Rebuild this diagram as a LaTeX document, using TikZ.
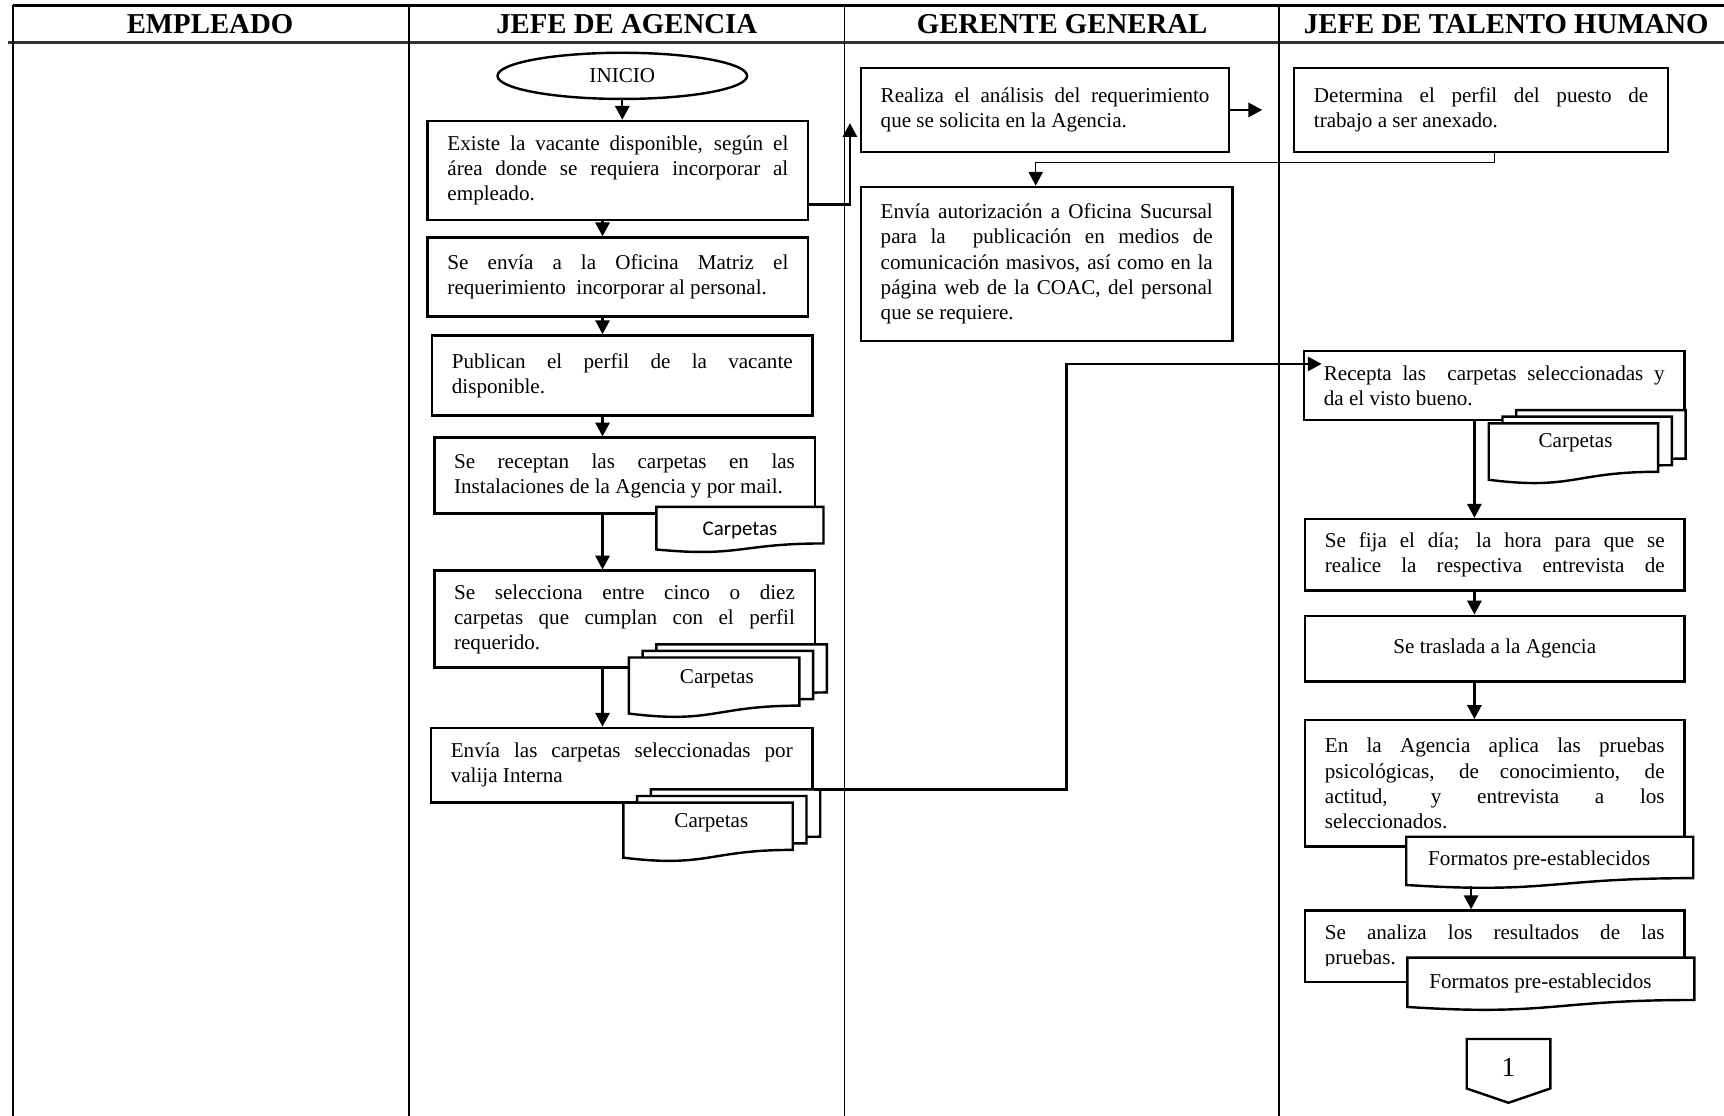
\documentclass[tikz,border=0pt]{standalone}
\usepackage{fontspec}
\setmainfont{Liberation Serif}
\newfontfamily\calibrifont{Carlito}
\usetikzlibrary{arrows.meta,shapes.geometric}

% justified box texts use hand-placed line ends, so accept loose lines
\tolerance=9999
\hbadness=10000
\hfuzz=20pt

\newcommand\bodysize{\fontsize{9.6}{11.4}\selectfont}

% process box: name, x, y, width, height (all in layout units), text
\newcommand\flowbox[6]{%
  \pgfmathsetmacro\fbx{#2+#4/2}\pgfmathsetmacro\fby{#3+#5/2}%
  \pgfmathsetmacro\fbtw{(#4-36)*0.5}\pgfmathsetmacro\fbh{#5*0.5}%
  \node[box, text width=\fbtw pt, minimum height=\fbh pt] (#1) at (\fbx,\fby) {#6};}

% document symbol with wavy bottom edge: x, y, width, height
\newcommand\docshape[4]{%
  \pgfmathsetmacro\dxa{#1+#3}\pgfmathsetmacro\dyr{#2+0.802*#4}%
  \pgfmathsetmacro\dxm{#1+0.5*#3}\pgfmathsetmacro\dyd{#2+1.11*#4}%
  \pgfmathsetmacro\dyl{#2+0.934*#4}%
  \draw[docline] (#1,#2) -- (\dxa,#2) -- (\dxa,\dyr)
    .. controls (\dxm,\dyr) and (\dxm,\dyd) .. (#1,\dyl) -- cycle;}

\begin{document}
\begin{tikzpicture}[x=0.5pt,y=-0.5pt,
  box/.style={draw, fill=white, line width=1.1pt, inner xsep=9pt, inner ysep=0pt,
    align=justify, font=\bodysize},
  docline/.style={draw, fill=white, line width=1.1pt},
  doctext/.style={font=\bodysize, inner sep=0pt},
  startend/.style={ellipse, draw, fill=white, line width=1.1pt, minimum width=113.5pt,
    minimum height=21pt, inner sep=0pt, font=\bodysize},
  lane/.style={line width=0.8pt},
  frame/.style={line width=1pt},
  headrule/.style={line width=1.2pt, black!80},
  header/.style={font=\fontsize{13.1}{15}\selectfont\bfseries, inner sep=0pt},
  arr/.style={line width=1pt, -{Triangle[length=6.3pt,width=6.5pt]}},
  arrthin/.style={line width=0.6pt, -{Triangle[length=6.3pt,width=6.5pt]}}]
\useasboundingbox (0,0) rectangle (1568,1015);

% lanes and header row
\draw[frame] (11.5,5) -- (1568,5);
\draw[headrule] (7.5,38.8) -- (1568,38.8);
\draw[lane] (11.5,5) -- (11.5,1015);
\foreach \lx in {372,768,1163} \draw[lane] (\lx,5) -- (\lx,1015);

\node[header] (h1) at (191,22) {EMPLEADO};
\node[header] (h2) at (570,22) {JEFE DE AGENCIA};
\node[header] (h3) at (966,22) {GERENTE GENERAL};
\node[header] (h4) at (1370,22) {JEFE DE TALENTO HUMANO};

% JEFE DE AGENCIA
\node[startend] (ini) at (566,69) {INICIO};
\flowbox{b1}{389}{110}{346}{90}{Existe la vacante disponible, según el\linebreak
  área donde se requiera incorporar al\linebreak empleado.}
\flowbox{b2}{389}{216}{346}{72}{Se envía a la Oficina Matriz el\linebreak
  requerimiento~ incorporar al personal.}
\flowbox{b3}{393}{305}{346}{73}{Publican el perfil de la vacante\linebreak disponible.}
\flowbox{b4}{395}{398}{346}{69}{Se receptan las carpetas en las\linebreak
  \mbox{Instalaciones de la Agencia y por mail.}}
\docshape{597}{461}{152}{41.5}
\node[doctext, font=\calibrifont\fontsize{9.5}{11}\selectfont] (d1) at (673,482) {Carpetas};

\flowbox{b5}{395}{519}{346}{88}{Se selecciona entre cinco o diez\linebreak
  carpetas que cumplan con el perfil\linebreak requerido.}
\docshape{597}{586}{155}{54.6}
\docshape{584.5}{592}{155}{54.6}
\docshape{572}{598}{155}{54.6}
\node[doctext] (d2) at (652,617) {Carpetas};

\flowbox{b6}{392}{662}{347}{68}{Envía las carpetas seleccionadas por\linebreak valija Interna}
\docshape{592}{718}{154}{53.6}
\docshape{579.5}{724}{154}{53.6}
\docshape{567}{730}{154}{53.6}
\node[doctext] (d3) at (647,748) {Carpetas};

% GERENTE GENERAL
\flowbox{b7}{783}{62}{335}{76}{Realiza el análisis del requerimiento\linebreak
  que se solicita en la Agencia.}
\flowbox{b9}{783}{170}{338}{140}{Envía autorización a Oficina Sucursal\linebreak
  para la~ publicación en medios de\linebreak comunicación masivos, así como en la\linebreak
  página web de la COAC, del personal\linebreak que se requiere.}

% JEFE DE TALENTO HUMANO
\flowbox{b8}{1177}{62}{340}{76}{Determina el perfil del puesto de\linebreak
  trabajo a ser anexado.}
\flowbox{b10}{1186}{319}{346}{63}{Recepta las~ carpetas seleccionadas y\linebreak
  da el visto bueno.}
\docshape{1379}{373}{154}{55}
\docshape{1366.5}{379}{154}{55}
\docshape{1354}{385}{154}{55}
\node[doctext] (d4) at (1433,403) {Carpetas};

\flowbox{b11}{1187}{472}{345}{65}{\parfillskip=0pt Se fija el día; la hora para que se\linebreak
  realice la respectiva entrevista de\par}
\node[box, align=center, minimum width=172.5pt, minimum height=30pt] (b12)
  at (1359.5,590) {Se traslada a la Agencia};
\flowbox{b13}{1187}{655}{345}{115}{En la Agencia aplica las pruebas\linebreak
  psicológicas, de conocimiento, de\linebreak actitud, y entrevista a los\linebreak
  seleccionados.}
\docshape{1279}{761}{261}{47}
\node[doctext] (d5) at (1400,783) {Formatos pre-establecidos};

\flowbox{b14}{1187}{828}{345}{65}{}
\begin{scope}
  \clip (1188,829) rectangle (1531,878);
  \node[box, draw=none, fill=none, text width=154.5pt, minimum height=32.5pt]
    (b14t) at (1359.5,861.5) {Se analiza los resultados de las\linebreak pruebas.};
\end{scope}
\docshape{1280}{871}{261}{48}
\node[doctext] (d6) at (1401,894) {Formatos pre-establecidos};

% off-page connector
\draw[line width=1.1pt, fill=white] (1334,945) -- (1410,945) -- (1410,990)
  -- (1372,1003) -- (1334,990) -- cycle;
\node[font=\fontsize{12.5}{14}\selectfont, inner sep=0pt] (p1) at (1372,971) {1};

% connector guide points
\coordinate (cA) at (548,0);
\coordinate (cB) at (1341,0);
\coordinate (up) at (773,112);
\coordinate (st) at (1148,100);
\coordinate (k1) at (1359,0);
\coordinate (k2) at (942,148);
\coordinate (k3) at (970,331);
\coordinate (rin) at (1202,331);
\coordinate (f5) at (1338,806);

% connectors
\draw[arr] (ini.south) -- (ini.south |- b1.north);
\draw[arr] (b1.south -| cA) -- (b2.north -| cA);
\draw[arr] (b2.south -| cA) -- (b3.north -| cA);
\draw[arr] (b3.south -| cA) -- (b4.north -| cA);
\draw[arr] (b4.south -| cA) -- (b5.north -| cA);
\draw[arr] (b5.south -| cA) -- (b6.north -| cA);
\draw[arr] (b1.east |- 0,186) -| (up);
\draw[arr] (b7.east) -- (st);
\draw[arrthin] (b8.south -| k1) |- (k2) -- (k2 |- b9.north);
\draw[arr] (b6.east |- 0,718) -| (k3) -- (rin);
\draw[arr] (b10.south -| cB) -- (b11.north -| cB);
\draw[arr] (b11.south -| cB) -- (b12.north -| cB);
\draw[arr] (b12.south -| cB) -- (b13.north -| cB);
\draw[arr] (f5) -- (f5 |- b14.north);
\end{tikzpicture}
\end{document}
